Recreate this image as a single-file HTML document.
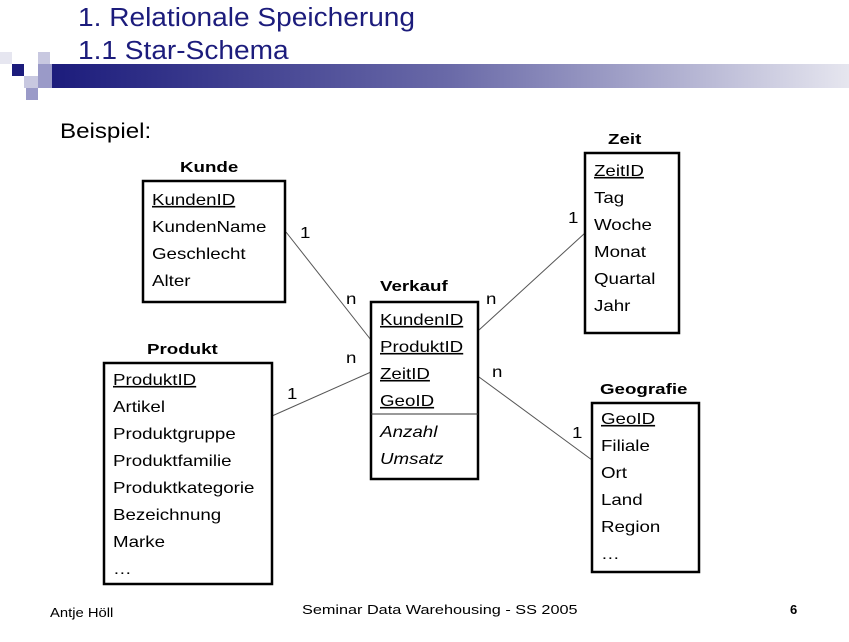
<!DOCTYPE html>
<html><head><meta charset="utf-8"><style>
body{margin:0;width:849px;height:637px;overflow:hidden;background:#fff;font-family:"Liberation Sans",Arial,sans-serif}
text{transform-box:fill-box;transform-origin:0 0}
.r text{transform:scaleX(1.17)}
.t text{transform:scaleX(1.25)}
.h{transform:scaleX(1.08)}
.b{transform:scaleX(1.15)}
.f{transform:scaleX(1.25)}
.a{transform:scaleX(1.14)}
</style></head><body>
<svg width="849" height="637" viewBox="0 0 849 637" xmlns="http://www.w3.org/2000/svg" font-family="Liberation Sans, Arial, sans-serif">
<defs><linearGradient id="g" x1="0" x2="1"><stop offset="0" stop-color="#1c1c7c"/><stop offset="0.5" stop-color="#6a6aa8"/><stop offset="1" stop-color="#e6e6ef"/></linearGradient></defs>
<rect x="52" y="64" width="797" height="24" fill="url(#g)"/>
<rect x="0" y="52" width="12" height="12" fill="#e6e6f0"/>
<rect x="38" y="52" width="12" height="12" fill="#c8c8e0"/>
<rect x="12" y="64" width="12" height="12" fill="#1c1c7c"/>
<rect x="38" y="64" width="14" height="12" fill="#9a9ac8"/>
<rect x="24" y="76" width="14" height="12" fill="#c8c8e0"/>
<rect x="38" y="76" width="14" height="12" fill="#9a9ac8"/>
<rect x="26" y="88" width="12" height="12" fill="#9a9ac8"/>
<text class="h" x="78" y="26" font-size="26" fill="#1c1c7c">1. Relationale Speicherung</text>
<text class="h" x="78" y="59" font-size="26" fill="#1c1c7c">1.1 Star-Schema</text>
<text class="b" x="60" y="138" font-size="21">Beispiel:</text>
<g stroke="#555" stroke-width="1">
<line x1="286" y1="232" x2="371" y2="340"/>
<line x1="272" y1="416" x2="371" y2="372"/>
<line x1="479" y1="330" x2="585" y2="233"/>
<line x1="479" y1="377" x2="592" y2="460"/>
</g>
<g fill="none" stroke="#000" stroke-width="2.5">
<rect x="143" y="181" width="142" height="121"/>
<rect x="585" y="153" width="94" height="180"/>
<rect x="371" y="302" width="107" height="177"/>
<rect x="104" y="363" width="168" height="221"/>
<rect x="592" y="403" width="107" height="169"/>
</g>
<line x1="371" y1="414" x2="478" y2="414" stroke="#333" stroke-width="1"/>
<g class="t" font-size="15" font-weight="bold">
<text x="180" y="172">Kunde</text><text x="608" y="144">Zeit</text><text x="380" y="291">Verkauf</text><text x="147" y="354">Produkt</text><text x="600" y="394">Geografie</text>
</g>
<g class="r" font-size="16">
<text x="152" y="205" text-decoration="underline">KundenID</text><text x="152" y="232">KundenName</text><text x="152" y="259">Geschlecht</text><text x="152" y="286">Alter</text>
<text x="594" y="176" text-decoration="underline">ZeitID</text><text x="594" y="203">Tag</text><text x="594" y="230">Woche</text><text x="594" y="257">Monat</text><text x="594" y="284">Quartal</text><text x="594" y="311">Jahr</text>
<text x="380" y="325" text-decoration="underline">KundenID</text><text x="380" y="352" text-decoration="underline">ProduktID</text><text x="380" y="379" text-decoration="underline">ZeitID</text><text x="380" y="406" text-decoration="underline">GeoID</text>
<text x="380" y="437" font-style="italic">Anzahl</text><text x="380" y="464" font-style="italic">Umsatz</text>
<text x="113" y="385" text-decoration="underline">ProduktID</text><text x="113" y="412">Artikel</text><text x="113" y="439">Produktgruppe</text><text x="113" y="466">Produktfamilie</text><text x="113" y="493">Produktkategorie</text><text x="113" y="520">Bezeichnung</text><text x="113" y="547">Marke</text><text x="113" y="574">…</text>
<text x="601" y="424" text-decoration="underline">GeoID</text><text x="601" y="451">Filiale</text><text x="601" y="478">Ort</text><text x="601" y="505">Land</text><text x="601" y="532">Region</text><text x="601" y="559">…</text>
<text x="300" y="238">1</text><text x="346" y="304">n</text><text x="346" y="363">n</text><text x="287" y="399">1</text>
<text x="486" y="304">n</text><text x="568" y="223">1</text><text x="492" y="377">n</text><text x="572" y="438">1</text>
</g>
<text class="a" x="50" y="617" font-size="13">Antje Höll</text>
<text class="f" x="302" y="614" font-size="13">Seminar Data Warehousing - SS 2005</text>
<text x="790" y="614" font-size="13" font-weight="bold">6</text>
</svg>
</body></html>
